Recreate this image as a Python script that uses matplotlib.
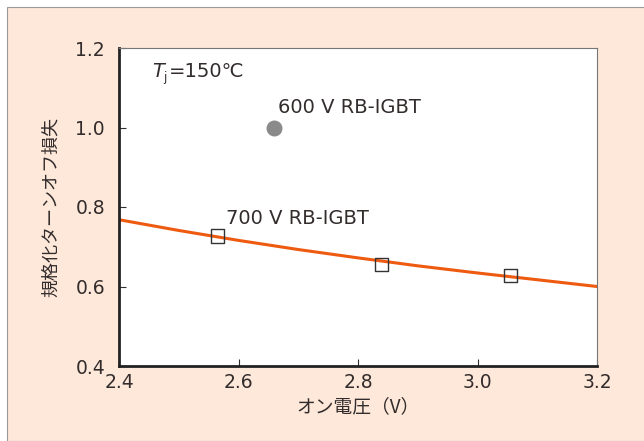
import matplotlib
matplotlib.use('Agg')
import matplotlib.pyplot as plt
from matplotlib.patches import Rectangle

plt.rcParams['font.family'] = ['Noto Sans CJK JP', 'DejaVu Sans']
LATIN = ['DejaVu Sans', 'Noto Sans CJK JP']
TXT = '#332c2c'

# data
curve_x = [2.4, 2.5, 2.6, 2.7, 2.8, 2.9, 3.0, 3.1, 3.2]
curve_y = [0.768, 0.741, 0.716, 0.693, 0.672, 0.652, 0.634, 0.617, 0.600]
rb700_x = [2.565, 2.84, 3.055]
rb700_y = [0.727, 0.655, 0.628]
rb600_x = [2.66]
rb600_y = [1.00]
xticks = [2.4, 2.6, 2.8, 3.0, 3.2]
yticks = [0.4, 0.6, 0.8, 1.0, 1.2]

fig = plt.figure(figsize=(6.44, 4.41), dpi=100)
fig.patch.set_facecolor('white')
fig.patches.append(Rectangle((7 / 644, 0), 1, 1 - 7 / 441, transform=fig.transFigure,
                             facecolor='#fde8da', edgecolor='#9a9a9a', linewidth=0.8, zorder=-5))

ax = fig.add_axes([119 / 644, 75 / 441, 478 / 644, 318 / 441])
ax.set_facecolor('white')

ax.plot(curve_x, curve_y, color='#ee5a10', linewidth=2.2, zorder=2)
ax.scatter(rb700_x, rb700_y, marker='s', s=90, facecolor='none', edgecolor='#333333',
           linewidth=1.0, zorder=3)
ax.scatter(rb600_x, rb600_y, marker='o', s=110, color='#8a8a8a', zorder=3)

ax.text(2.455, 1.14, 'T', fontsize=14, color=TXT, fontstyle='italic', family=LATIN, va='center')
ax.text(2.474, 1.126, 'j', fontsize=8.5, color=TXT, family=LATIN, va='center')
ax.text(2.484, 1.14, '=150℃', fontsize=14, color=TXT, family=LATIN, va='center')
ax.text(2.666, 1.05, '600 V RB-IGBT', fontsize=14, color=TXT, family=LATIN, va='center')
ax.text(2.579, 0.772, '700 V RB-IGBT', fontsize=14, color=TXT, family=LATIN, va='center')

ax.set_xlim(2.4, 3.2)
ax.set_ylim(0.4, 1.2)
ax.set_xticks(xticks)
ax.set_yticks(yticks)
ax.set_xticklabels([f'{v:.1f}' for v in xticks], family=LATIN)
ax.set_yticklabels([f'{v:.1f}' for v in yticks], family=LATIN)
ax.tick_params(direction='in', length=5, width=0.8, labelsize=13.5, colors=TXT, pad=10)
ax.tick_params(axis='x', pad=5)

for side in ['left', 'bottom']:
    ax.spines[side].set_linewidth(2.0)
    ax.spines[side].set_color('#222222')
for side in ['top', 'right']:
    ax.spines[side].set_linewidth(0.8)
    ax.spines[side].set_color('#777777')

ax.set_xlabel('オン電圧（V）', fontsize=13.5, color=TXT, labelpad=3)
ax.set_ylabel('規格化ターンオフ損失', fontsize=13, color=TXT, labelpad=11)

fig.savefig('out.png', dpi=100)
